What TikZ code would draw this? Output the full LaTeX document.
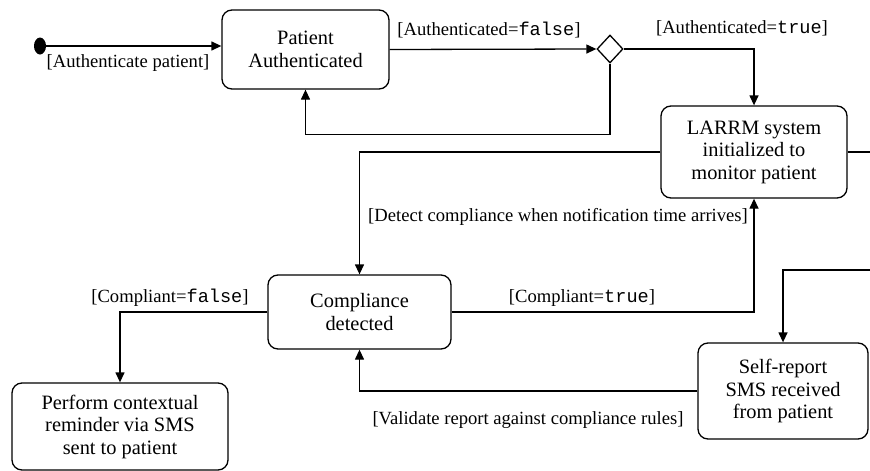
\documentclass[tikz,border=0pt]{standalone}
\usepackage{fontspec}
\setmainfont{Liberation Serif}
\setmonofont{Liberation Mono}
\usetikzlibrary{shapes, arrows.meta, positioning}
\tikzset{
    state/.style={rectangle, draw, line width=1.3pt, rounded corners=10pt, align=center, inner sep=0pt, font=\fontsize{20.4}{22.5}\selectfont},
    choice/.style={diamond, draw, line width=1.3pt, minimum width=26pt, minimum height=28pt, inner sep=0pt},
    initial/.style={ellipse, fill=black, minimum width=12pt, minimum height=17pt, inner sep=0pt},
    guard/.style={inner sep=0pt, font=\fontsize{18.6}{20}\selectfont},
    arrow/.style={line width=1.3pt, -{Triangle[length=10pt, width=9pt]}},
    line/.style={line width=1.3pt}
}
\begin{document}
\begin{tikzpicture}[x=1pt, y=-1pt]
        \useasboundingbox (0,0) rectangle (870,471);

        % Start: authentication
        \node (Start) [initial] at (40,46) {};
        \node (PatientAuth) [state, minimum width=167pt, minimum height=79pt] at (305.5,49.5) {Patient\\Authenticated};
        \node (Decision) [choice] at (610,49) {};
        \node (Start_guard) [guard] at (128,63) {[Authenticate patient]};
        \node (False_guard) [guard] at (489,30) {[Authenticated=\texttt{false}]};
        \node (True_guard) [guard] at (742,28) {[Authenticated=\texttt{true}]};

        % Monitoring
        \node (LARRM) [state, minimum width=186pt, minimum height=92pt] at (754,152) {LARRM system\\initialized to\\monitor patient};
        \node (Detect_guard) [guard] at (558,217) {[Detect compliance when notification time arrives]};

        % Compliance
        \node (Compliance) [state, minimum width=183pt, minimum height=74pt] at (359.5,312) {Compliance\\detected};
        \node (Compliant_guard) [guard] at (582,298) {[Compliant=\texttt{true}]};
        \node (Noncompliant_guard) [guard] at (170,298) {[Compliant=\texttt{false}]};

        % Reminder and self-report
        \node (Reminder) [state, minimum width=216pt, minimum height=87pt] at (120,426.5) {Perform contextual\\reminder via SMS\\sent to patient};
        \node (SelfReport) [state, minimum width=170pt, minimum height=96pt] at (783,391) {Self-report\\SMS received\\from patient};
        \node (Validate_guard) [guard] at (528,420) {[Validate report against compliance rules]};

        \coordinate (OffA) at (872,152);
        \coordinate (OffB) at (872,270);

        % Flow arrows
        \draw[arrow] (Start.east) -- (Start.east -| PatientAuth.west);
        \draw[arrow] (PatientAuth.east) -- (Decision.west);
        \draw[arrow] (Decision.east) -| (LARRM.north);
        \draw[arrow] (Decision.south) -- ++(0,71) -| (PatientAuth.south);
        \draw[arrow] (LARRM.west) -| (Compliance.north);
        \draw[line] (LARRM.east) -- (OffA);
        \draw[arrow] (OffB) -| (SelfReport.north);
        \draw[arrow] (SelfReport.west) -| (Compliance.south);
        \draw[arrow] (Compliance.east) -| (LARRM.south);
        \draw[arrow] (Compliance.west) -| (Reminder.north);
    \end{tikzpicture}
\end{document}
